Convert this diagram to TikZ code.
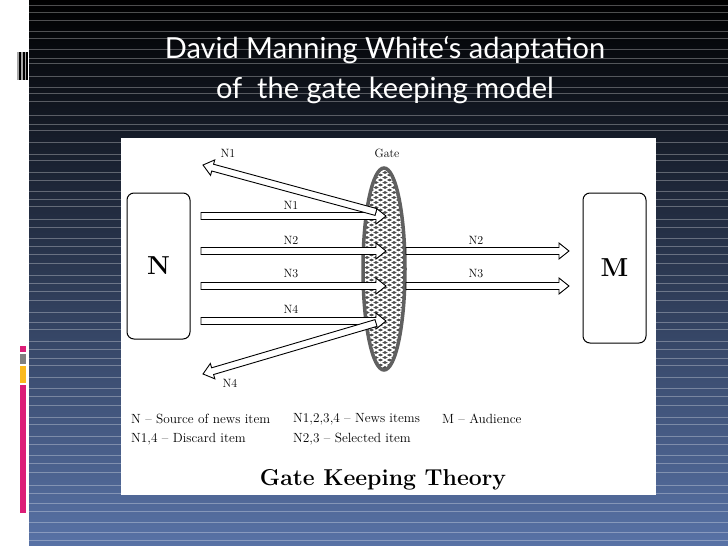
\documentclass[tikz,border=0pt]{standalone}
\usepackage{fontspec}
\newfontfamily\titlefont{Lato}
\usetikzlibrary{calc}
\definecolor{bgbot}{RGB}{88,114,166}
\definecolor{pinkc}{RGB}{220,30,120}
\definecolor{yelc}{RGB}{250,185,30}
\newcommand\hollowarr[2]{\draw[harr] let \p1=($(#2)-(#1)$), \n1={atan2(\y1,\x1)}, \n2={veclen(\x1,\y1)} in [shift={(#1)},rotate=\n1] (0,-3.5) -- (\n2-10,-3.5) -- (\n2-10,-8) -- (\n2,0) -- (\n2-10,8) -- (\n2-10,3.5) -- (0,3.5) -- cycle;}
\begin{document}
\begin{tikzpicture}[x=1pt,y=-1pt,
  harr/.style={draw=black,line width=0.9pt,fill=white,line join=miter},
  lab/.style={font=\fontsize{12}{12}\selectfont,inner sep=0pt},
  leg/.style={font=\fontsize{13.3}{14}\selectfont,anchor=west,inner sep=0pt},
  boxst/.style={draw,line width=1pt,rounded corners=7pt,minimum width=63pt,inner sep=0pt}]
\useasboundingbox (0,0) rectangle (728,546);
% background
\shade[top color=black,bottom color=bgbot] (29,0) rectangle (728,546);
\fill[white] (0,0) rectangle (29,546);
\foreach \yy in {5,12,20,31,38,49,58,63,76,87,93,101,115,124,130,142,154,160,172,180,191,199,206,219,227,238,246,254,263,275,283,291,300,312,322,329,341,349,358,365,377,388,396,405,417,424,436,444,455,463,472,485,493,503,511,522,532,540}
  \draw[white,opacity=0.3,line width=0.6pt] (29,\yy) -- (728,\yy);
\fill[gray!70] (17,52) rectangle (28,80);
\foreach \xx in {19,22.5,26} \fill[black] (\xx,52) rectangle (\xx+2,80);
\fill[pinkc] (20,346) rectangle (26,352);
\fill[gray] (20,354) rectangle (26,364);
\fill[yelc] (20,366) rectangle (26,383);
\fill[pinkc] (20,385) rectangle (26,513);
% title
\node[white,font=\titlefont\fontsize{29}{40}\selectfont,align=center] (title) at (385,70) {David Manning White‘s adaptation\\of\ \ the gate keeping model};
% panel
\fill[white] (121,138) rectangle (656,495);
% gate
\begin{scope}
\clip (384,269) ellipse (21 and 101);
\fill[gray!60!black] (360,165) rectangle (410,375);
\foreach \k in {-70,-65,...,230} {
  \draw[white,line width=1.6pt] (340,165+\k) -- (430,215+\k);
  \draw[white,line width=1.6pt] (340,165+\k) -- (430,115+\k);}
\end{scope}
\draw[gray!75!black,line width=3.5pt] (384,269) ellipse (21 and 101);
\node[lab] (gatelab) at (387,153) {Gate};
% boxes
\node[boxst,minimum height=146pt] (N) at (158.5,266) {\bfseries\fontsize{26}{26}\selectfont N};
\node[boxst,minimum height=150pt] (M) at (614.5,268) {\bfseries\fontsize{26}{26}\selectfont M};
% coordinates
\foreach \i/\yy in {1/216,2/251,3/286,4/321} {
  \coordinate (s\i) at (201,\yy); \coordinate (g\i) at (386,\yy);}
\coordinate (go2) at (406,251); \coordinate (go3) at (406,286);
\coordinate (m2) at (569,251); \coordinate (m3) at (569,286);
\coordinate (d1a) at (376,212); \coordinate (d1b) at (203,165);
\coordinate (d4a) at (376,323); \coordinate (d4b) at (203,374);
\foreach \i in {1,...,4} {\hollowarr{s\i}{g\i}}
\hollowarr{go2}{m2}
\hollowarr{go3}{m3}
\hollowarr{d1a}{d1b}
\hollowarr{d4a}{d4b}
\node[lab] (l1) at (291,205) {N1};
\node[lab] (l2) at (291,240) {N2};
\node[lab] (l3) at (291,274) {N3};
\node[lab] (l4) at (291,309) {N4};
\node[lab] (r2) at (476,240) {N2};
\node[lab] (r3) at (476,274) {N3};
\node[lab] (t1) at (228,153) {N1};
\node[lab] (t4) at (230,383) {N4};
% legend
\node[leg] (a) at (131,419) {N -- Source of news item};
\node[leg] (b) at (293,419) {N1,2,3,4 -- News items};
\node[leg] (c) at (442,419) {M -- Audience};
\node[leg] (d) at (131,439) {N1,4 -- Discard item};
\node[leg] (e) at (293,439) {N2,3 -- Selected item};
\node[font=\bfseries\fontsize{23}{23}\selectfont] (gt) at (383,480) {Gate Keeping Theory};
\end{tikzpicture}
\end{document}
